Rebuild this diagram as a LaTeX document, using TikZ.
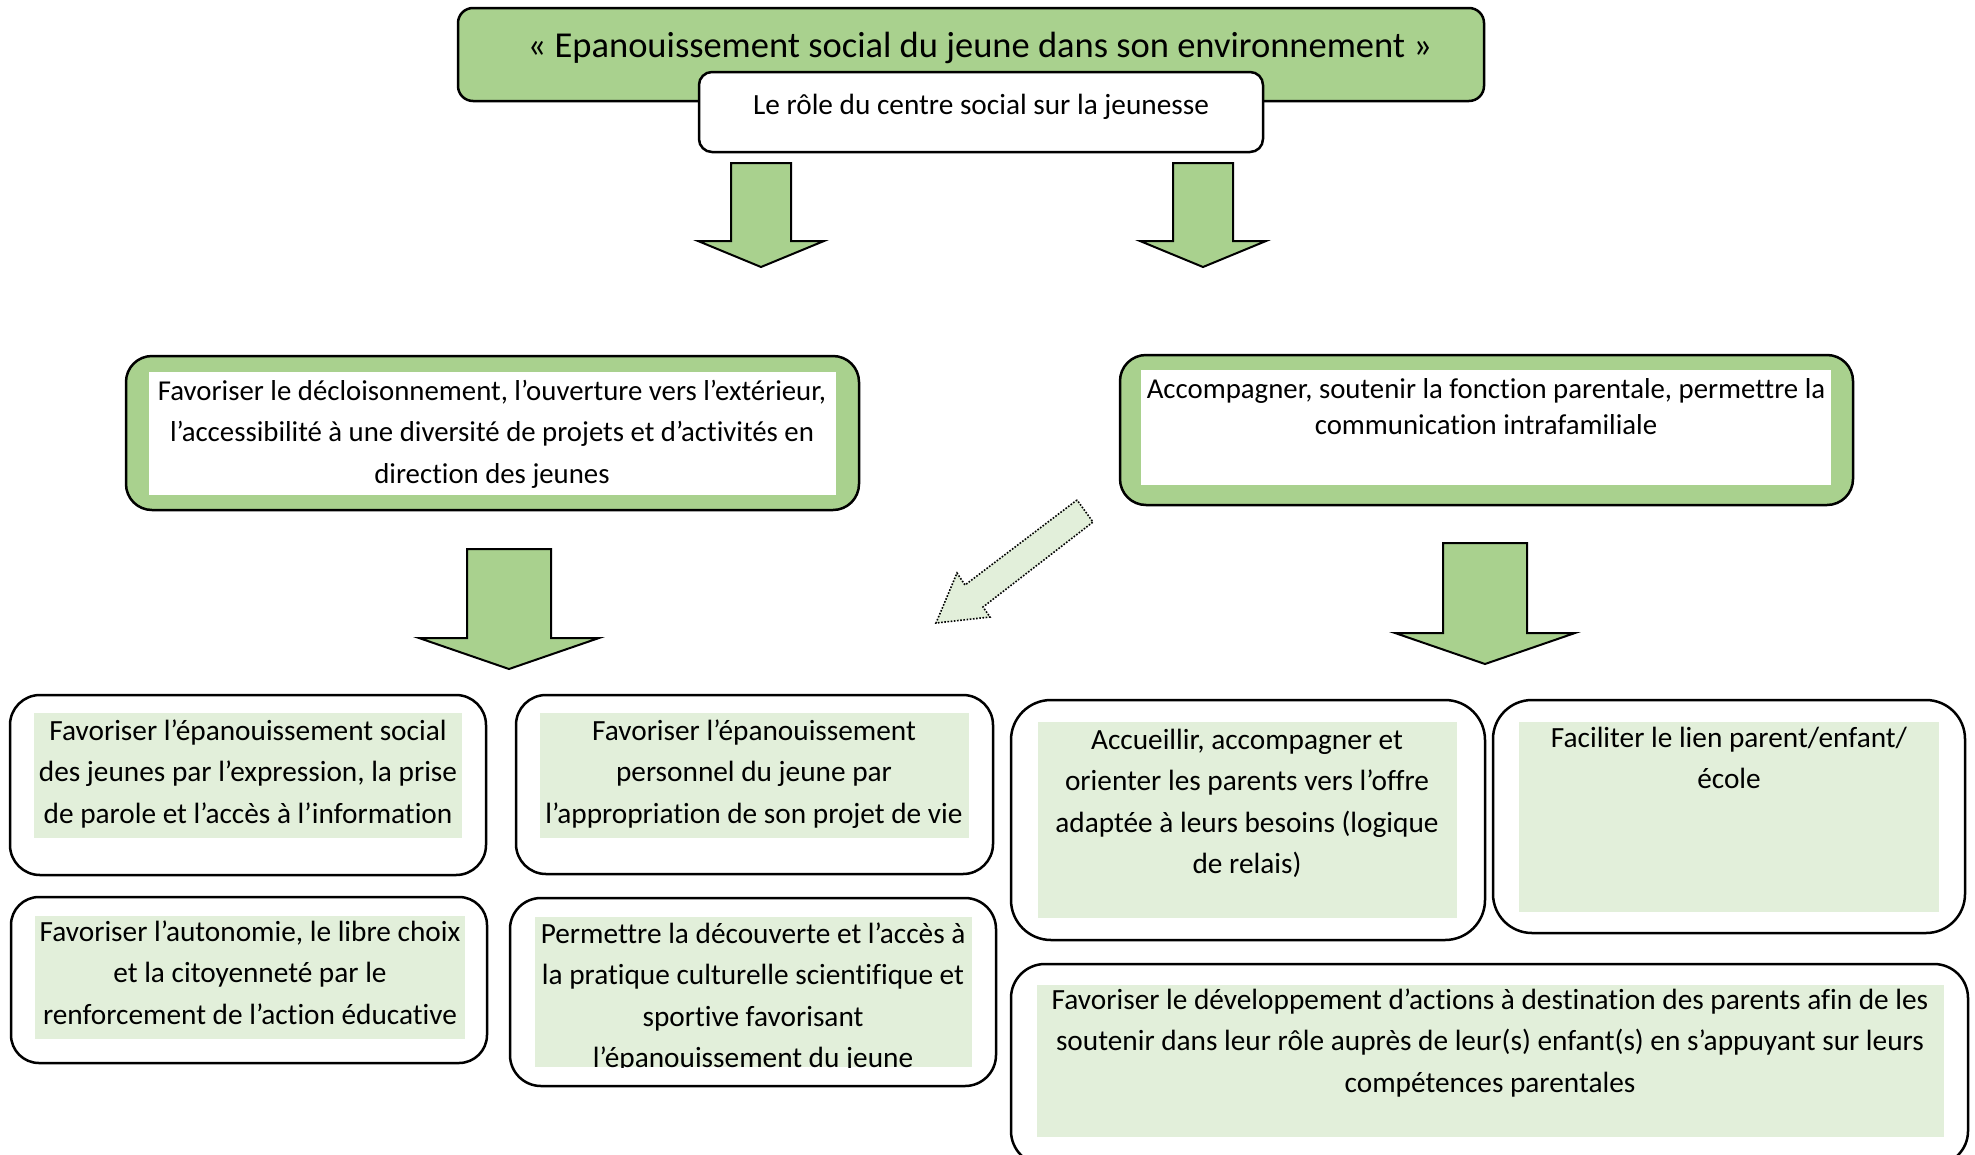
\documentclass[tikz,border=0pt]{standalone}
\usepackage{fontspec}
\setmainfont{Carlito}[Ligatures={NoCommon}]
\definecolor{gfill}{HTML}{A9D18E}
\definecolor{lgreen}{HTML}{E2EFDA}
\tikzset{
  box/.style={draw=black, line width=2.5pt, inner sep=0pt, outer sep=0pt},
  gbox/.style={box, fill=gfill},
  wbox/.style={box, fill=white},
  panel/.style={fill=#1, draw=none, inner sep=0pt, outer sep=0pt},
  blockarrow/.style={draw=black, line width=2pt, fill=gfill, line join=miter},
  dotarrow/.style={draw=black, line width=1.6pt, dash pattern=on 1.6pt off 1.6pt, fill=lgreen},
  txt/.style={align=center, inner sep=0pt, outer sep=0pt, text=black},
}
% name, style, radius, x1, y1, x2, y2
\newcommand\rbox[7]{\node[#2, rounded corners=#3, anchor=north west, minimum width=#6-#4, minimum height=#7-#5] (#1) at (#4,#5) {};}
% name, colour, x1, y1, x2, y2
\newcommand\pbox[6]{\node[panel=#2, anchor=north west, minimum width=#5-#3, minimum height=#6-#4] (#1) at (#3,#4) {};}
% name, cx, first baseline, baselineskip, text
\newcommand\txtnode[5]{\node[txt, font=\fontsize{29.3}{#4}\selectfont, anchor=north] (#1) at (#2,#3-0.7*#4) {\strut #5};}
\newcommand\txtnodes[5]{\node[txt, font=\fontsize{28.8}{#4}\selectfont, anchor=north] (#1) at (#2,#3-0.7*#4) {\strut #5};}
% block arrow: cx, top, half shaft, head base, half head, tip
\newcommand\dnarrow[6]{\draw[blockarrow] (#1-#3,#2) -- (#1+#3,#2) -- (#1+#3,#4) -- (#1+#5,#4) -- (#1,#6) -- (#1-#5,#4) -- (#1-#3,#4) -- cycle;}
\begin{document}
\begin{tikzpicture}[x=1pt, y=-1pt]
\useasboundingbox (0,0) rectangle (1975,1154);
\clip (0,0) rectangle (1975,1154);

% title
\rbox{title}{gbox}{15}{458}{8}{1484}{101}
\node[txt, font=\fontsize{36.5}{44}\selectfont, anchor=base] (titletxt) at (980,57) {« Epanouissement social du jeune dans son environnement »};
\rbox{sub}{wbox}{13}{699}{72}{1263}{152}
\txtnode{subtxt}{981}{114}{41.5}{Le rôle du centre social sur la jeunesse}

% top arrows
\dnarrow{761}{163}{30}{241}{63}{267}
\dnarrow{1203}{163}{30}{241}{63}{267}

% left green box
\rbox{lg}{gbox}{26}{126}{356}{859}{510}
\pbox{lgin}{white}{149}{372}{836}{495}
\txtnodes{lgtxt}{492}{400}{41.5}{Favoriser le décloisonnement, l’ouverture vers l’extérieur,\\ l’accessibilité à une diversité de projets et d’activités en\\ direction des jeunes}

% right green box
\rbox{rg}{gbox}{26}{1120}{355}{1853}{505}
\pbox{rgin}{white}{1141}{370}{1831}{485}
\txtnodes{rgtxt}{1486}{398}{36}{Accompagner, soutenir la fonction parentale, permettre la\\ communication intrafamiliale}

% middle arrows
\dnarrow{509}{549}{42}{638}{90}{669}
\dnarrow{1485}{543}{42}{633}{90}{664}
\draw[dotarrow] (1077,500) -- (965,585) -- (957,573) -- (936,623) -- (990,617) -- (983,607) -- (1093,522) -- cycle;

% box A
\rbox{A}{wbox}{30}{10}{695}{486}{875}
\pbox{Ain}{lgreen}{34}{713}{462}{838}
\txtnode{Atxt}{248}{740}{41.5}{Favoriser l’épanouissement social\\ des jeunes par l’expression, la prise\\ de parole et l’accès à l’information}

% box B
\rbox{B}{wbox}{30}{516}{695}{993}{874}
\pbox{Bin}{lgreen}{540}{713}{969}{838}
\txtnode{Btxt}{754}{740}{41.5}{Favoriser l’épanouissement\\ personnel du jeune par\\ l’appropriation de son projet de vie}

% box C
\rbox{C}{wbox}{28}{11}{897}{487}{1063}
\pbox{Cin}{lgreen}{35}{916}{465}{1039}
\txtnode{Ctxt}{250}{941}{41.5}{Favoriser l’autonomie, le libre choix\\ et la citoyenneté par le\\ renforcement de l’action éducative}

% box D
\rbox{D}{wbox}{31}{510}{898}{996}{1086}
\pbox{Din}{lgreen}{535}{917}{972}{1067}
\begin{scope}
\clip (535,917) rectangle (972,1067);
\txtnode{Dtxt}{753}{943}{41.5}{Permettre la découverte et l’accès à\\ la pratique culturelle scientifique et\\ sportive favorisant\\ l’épanouissement du jeune}
\end{scope}

% box E
\rbox{E}{wbox}{40}{1011}{700}{1485}{940}
\pbox{Ein}{lgreen}{1038}{722}{1457}{918}
\txtnode{Etxt}{1247}{749}{41.5}{Accueillir, accompagner et\\ orienter les parents vers l’offre\\ adaptée à leurs besoins (logique\\ de relais)}

% box F
\rbox{F}{wbox}{39}{1493}{700}{1965}{933}
\pbox{Fin}{lgreen}{1519}{722}{1939}{912}
\txtnode{Ftxt}{1729}{747}{41.5}{Faciliter le lien parent/enfant/\\ école}

% box G
\rbox{G}{wbox}{34}{1011}{964}{1968}{1165}
\pbox{Gin}{lgreen}{1037}{985}{1944}{1137}
\txtnode{Gtxt}{1490}{1009}{41.5}{Favoriser le développement d’actions à destination des parents afin de les\\ soutenir dans leur rôle auprès de leur(s) enfant(s) en s’appuyant sur leurs\\ compétences parentales}
\end{tikzpicture}
\end{document}
